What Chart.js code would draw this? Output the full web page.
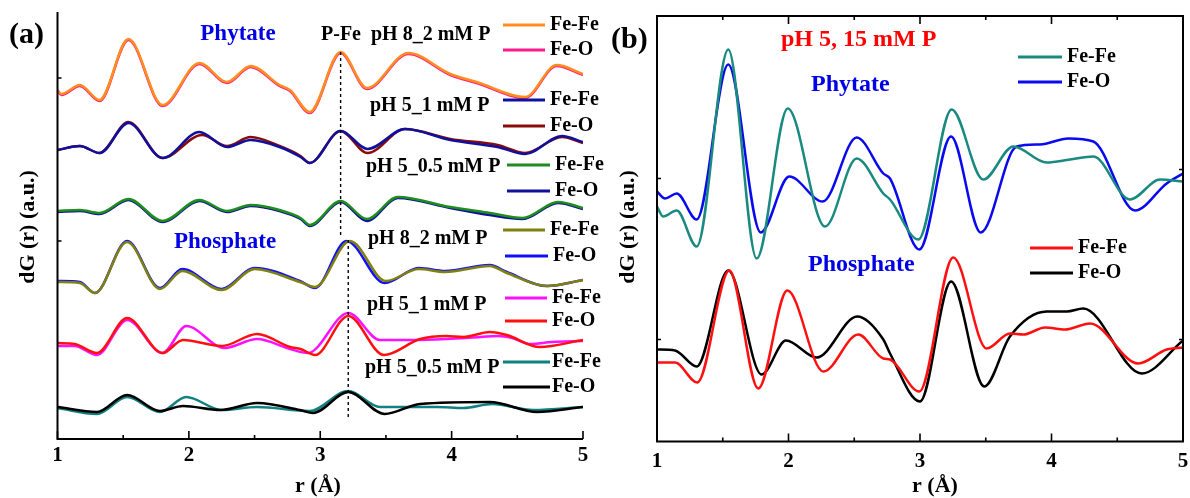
<!DOCTYPE html>
<html>
<head>
<meta charset="utf-8">
<script src="https://cdn.jsdelivr.net/npm/chart.js@4.4.1/dist/chart.umd.min.js"></script>
<style>
  html, body { margin: 0; padding: 0; background: #fff; }
  #wrap { position: relative; width: 1190px; height: 498px; }
  canvas { position: absolute; left: 0; top: 0; }
</style>
</head>
<body>
<div id="wrap">
  <canvas id="pa" width="1190" height="498"></canvas>
  <canvas id="pb" width="1190" height="498"></canvas>
</div>
<script>
// r in Å, dG(r) in a.u. (curves stacked with offsets)
const rMajor = [1, 2, 3, 4, 5];
const rMinor = [1.5, 2.5, 3.5, 4.5];

// (a) phytate, pH 8, 2 mM P
const phyA8FeFe = [[1.0,34.9],[1.03,34.5],[1.17,35.4],[1.32,33.9],[1.54,40.0],[1.80,33.4],[2.08,37.6],[2.29,35.7],[2.47,37.3],[2.69,35.4],[2.77,34.9],[2.92,32.7],[3.155,38.7],[3.355,35.1],[3.67,38.6],[3.99,36.5],[4.19,35.7],[4.56,34.2],[4.80,37.4],[5.0,36.5]];
const phyA8FeO  = [[1.0,34.8],[1.03,34.4],[1.17,35.3],[1.32,33.8],[1.54,39.9],[1.80,33.3],[2.08,37.5],[2.29,35.6],[2.47,37.2],[2.69,35.3],[2.77,34.8],[2.92,32.6],[3.155,38.6],[3.355,35.0],[3.67,38.5],[3.99,36.4],[4.19,35.6],[4.56,34.1],[4.80,37.3],[5.0,36.4]];
// (a) phytate, pH 5, 1 mM P
const phyA5FeFe = [[1.0,28.9],[1.17,29.3],[1.32,28.6],[1.54,31.6],[1.80,28.1],[2.08,30.7],[2.29,29.2],[2.47,29.9],[2.69,29.2],[2.85,28.2],[2.92,27.6],[3.155,30.8],[3.36,29.0],[3.645,31.0],[3.99,29.9],[4.35,29.2],[4.56,28.5],[4.84,30.3],[5.0,29.7]];
const phyA5FeO  = [[1.0,28.9],[1.17,29.3],[1.32,28.6],[1.54,31.7],[1.80,28.1],[2.10,30.4],[2.29,29.3],[2.47,30.2],[2.69,29.3],[2.85,28.3],[2.92,27.6],[3.155,30.8],[3.36,28.6],[3.645,31.0],[3.99,30.0],[4.35,29.4],[4.56,28.6],[4.84,30.2],[5.0,29.6]];
// (a) phytate, pH 5, 0.5 mM P
const phyA05FeFe = [[1.0,22.8],[1.17,22.9],[1.32,22.6],[1.54,24.0],[1.80,21.8],[2.08,23.9],[2.29,22.8],[2.47,23.4],[2.69,22.9],[2.85,22.1],[2.92,21.4],[3.155,23.8],[3.355,22.0],[3.59,24.2],[3.99,23.2],[4.29,22.6],[4.54,22.1],[4.81,23.7],[5.0,23.1]];
const phyA05FeO  = [[1.0,22.7],[1.17,22.8],[1.32,22.5],[1.54,23.9],[1.80,21.7],[2.08,23.8],[2.29,22.7],[2.47,23.3],[2.69,22.8],[2.85,22.0],[2.92,21.3],[3.155,23.7],[3.355,21.8],[3.59,24.1],[3.99,23.1],[4.29,22.4],[4.54,22.0],[4.81,23.6],[5.0,23.0]];
// (a) phosphate, pH 8, 2 mM P
const phoA8FeFe = [[1.0,15.7],[1.17,15.6],[1.285,14.6],[1.53,19.7],[1.78,15.0],[1.95,16.8],[2.25,14.9],[2.50,17.0],[2.845,15.7],[2.96,15.2],[3.226,19.8],[3.50,15.8],[3.75,17.0],[3.95,16.7],[4.29,17.3],[4.42,16.6],[4.725,15.3],[5.0,15.9]];
const phoA8FeO  = [[1.0,15.8],[1.17,15.7],[1.285,14.6],[1.53,19.8],[1.78,15.1],[1.95,17.0],[2.25,15.0],[2.50,17.1],[2.845,15.8],[2.96,15.1],[3.20,19.8],[3.49,15.6],[3.75,17.1],[3.95,16.8],[4.29,17.4],[4.42,16.7],[4.725,15.3],[5.0,15.9]];
// (a) phosphate, pH 5, 1 mM P
const phoA5FeFe = [[1.0,9.3],[1.13,9.3],[1.30,8.4],[1.53,11.9],[1.80,8.6],[1.98,11.3],[2.27,9.1],[2.52,10.0],[2.77,9.0],[2.905,8.6],[3.213,12.6],[3.455,9.9],[3.70,9.9],[3.96,10.0],[4.22,10.2],[4.35,10.3],[4.46,10.1],[4.60,9.5],[4.76,9.7],[5.0,9.8]];
const phoA5FeO  = [[1.0,9.6],[1.13,9.5],[1.30,8.6],[1.53,12.1],[1.80,8.6],[1.955,9.9],[2.25,9.3],[2.52,10.5],[2.77,9.2],[2.85,9.0],[2.96,8.4],[3.213,12.3],[3.485,8.4],[3.76,10.0],[3.96,10.3],[4.09,10.2],[4.29,10.7],[4.42,10.4],[4.67,9.2],[5.0,9.9]];
// (a) phosphate, pH 5, 0.5 mM P
const phoA05FeFe = [[1.0,3.1],[1.30,2.5],[1.53,4.2],[1.78,2.7],[1.98,4.2],[2.25,2.9],[2.52,3.2],[2.92,2.8],[3.213,4.8],[3.455,3.2],[3.89,3.2],[4.09,3.1],[4.31,3.5],[4.62,2.9],[5.0,3.2]];
const phoA05FeO  = [[1.0,3.2],[1.30,2.7],[1.53,4.4],[1.78,2.8],[1.955,3.3],[2.24,2.9],[2.52,3.6],[2.845,2.9],[2.945,2.6],[3.213,4.7],[3.49,2.5],[3.76,3.5],[4.29,3.7],[4.65,2.7],[5.0,3.2]];
// P-Fe guide positions (r) and their vertical spans
const pFeR = [3.155, 3.213];
const pFeSpan = [[38.7, 20.2], [19.9, 2.1]];

// (b) pH 5, 15 mM P
const phyBFeFe = [[1.0,23.5],[1.046,22.5],[1.15,23.1],[1.302,19.5],[1.542,39.2],[1.758,18.3],[1.994,33.3],[2.278,21.5],[2.519,28.3],[2.721,24.8],[2.772,24.2],[2.987,20.2],[3.241,33.2],[3.481,26.2],[3.71,29.5],[3.963,27.9],[4.141,28.2],[4.318,28.5],[4.597,24.2],[4.825,26.2],[5.0,26.0]];
const phyBFeO  = [[1.0,25.0],[1.061,24.3],[1.15,24.8],[1.302,22.2],[1.542,37.7],[1.789,20.9],[2.006,26.5],[2.26,24.0],[2.519,30.4],[2.721,26.8],[2.772,26.3],[2.995,19.2],[3.236,30.5],[3.462,20.9],[3.735,29.5],[3.913,29.7],[4.128,30.3],[4.318,30.0],[4.635,23.1],[4.876,25.8],[5.0,26.8]];
const phoBFeFe = [[1.0,7.9],[1.137,7.9],[1.306,5.9],[1.55,17.1],[1.77,5.3],[1.991,15.1],[2.265,7.0],[2.531,10.7],[2.721,8.3],[2.772,8.2],[2.995,5.0],[3.253,18.4],[3.507,9.3],[3.684,10.8],[3.786,10.7],[3.951,11.4],[4.103,11.2],[4.293,11.8],[4.66,7.8],[4.876,9.2],[5.0,9.4]];
const phoBFeO  = [[1.0,9.2],[1.137,9.1],[1.302,7.5],[1.542,17.1],[1.796,6.7],[1.981,10.1],[2.214,8.4],[2.523,12.5],[2.721,10.2],[2.772,8.8],[3.0,4.0],[3.236,16.0],[3.489,5.5],[3.684,10.5],[3.963,13.0],[4.116,13.0],[4.242,13.3],[4.686,6.8],[5.0,10.1]];

const yTicksA = [19.8, 36.1];
const yTicksB = [10.2, 26.3];
const yTicksBRight = [10.2, 27.2];

const serif = '"Liberation Serif", "Times New Roman", serif';

function curve(pts, color, width) {
  return {
    data: pts.map(([x, y]) => ({ x, y })),
    borderColor: color,
    borderWidth: width || 2.5,
    pointRadius: 0,
    fill: false,
    cubicInterpolationMode: 'monotone'
  };
}

function guide(r, span) {
  return {
    data: [{ x: r, y: span[0] }, { x: r, y: span[1] }],
    borderColor: '#000',
    borderWidth: 1.4,
    borderDash: [3, 3],
    pointRadius: 0,
    tension: 0
  };
}

function text(ctx, s, x, y, size, color, align) {
  ctx.font = 'bold ' + size + 'px ' + serif;
  ctx.fillStyle = color || '#000';
  ctx.textAlign = align || 'left';
  ctx.textBaseline = 'middle';
  ctx.fillText(s, x, y);
}

// axes, inside ticks, labels and the hand-placed legend keys
function decor(spec) {
  return {
    id: 'decor',
    afterDatasetsDraw(chart) {
      const { ctx, chartArea: a, scales: { x, y } } = chart;
      ctx.save();
      ctx.strokeStyle = '#000';
      ctx.lineWidth = 2;
      ctx.beginPath();
      if (spec.box) {
        ctx.rect(a.left, a.top, a.right - a.left, a.bottom - a.top);
      } else {
        ctx.moveTo(a.left, a.top);
        ctx.lineTo(a.left, a.bottom);
        ctx.lineTo(a.right, a.bottom);
      }
      ctx.stroke();

      ctx.lineWidth = 1.6;
      ctx.beginPath();
      rMajor.concat(rMinor).forEach(v => {
        const px = x.getPixelForValue(v);
        const len = rMajor.includes(v) ? 8 : 4;
        ctx.moveTo(px, a.bottom); ctx.lineTo(px, a.bottom - len);
        if (spec.box) { ctx.moveTo(px, a.top); ctx.lineTo(px, a.top + len); }
      });
      spec.yLeft.forEach(v => {
        const py = y.getPixelForValue(v);
        ctx.moveTo(a.left, py); ctx.lineTo(a.left + 4, py);
      });
      (spec.yRight || []).forEach(v => {
        const py = y.getPixelForValue(v);
        ctx.moveTo(a.right, py); ctx.lineTo(a.right - 4, py);
      });
      ctx.stroke();

      rMajor.forEach(v => text(ctx, String(v), x.getPixelForValue(v), spec.tickY, 21, '#000', 'center'));
      text(ctx, 'r (Å)', spec.xTitle[0], spec.xTitle[1], 22, '#000', 'center');

      ctx.save();
      ctx.translate(spec.yTitle[0], spec.yTitle[1]);
      ctx.rotate(-Math.PI / 2);
      text(ctx, 'dG (r) (a.u.)', 0, 0, 22, '#000', 'center');
      ctx.restore();

      spec.labels.forEach(l => text(ctx, l[0], l[1], l[2], l[3], l[4], l[5]));

      ctx.lineWidth = 3;
      spec.keys.forEach(k => {
        ctx.strokeStyle = k[1];
        ctx.beginPath();
        ctx.moveTo(k[2], k[4]); ctx.lineTo(k[3], k[4]);
        ctx.stroke();
        text(ctx, k[0], k[5], k[4], 20, '#000');
      });
      ctx.restore();
    }
  };
}

function makeChart(id, datasets, area, yMax, spec) {
  return new Chart(document.getElementById(id), {
    type: 'line',
    data: { datasets },
    options: {
      responsive: false,
      animation: false,
      events: [],
      layout: { padding: { left: area[0], top: area[1], right: 1190 - area[2], bottom: 498 - area[3] } },
      scales: {
        x: {
          type: 'linear', min: 1, max: 5,
          ticks: { display: false },
          grid: { display: false, drawTicks: false },
          border: { display: false },
          afterFit: s => { s.height = 0; }
        },
        y: {
          min: 0, max: yMax,
          ticks: { display: false },
          grid: { display: false, drawTicks: false },
          border: { display: false },
          afterFit: s => { s.width = 0; }
        }
      },
      plugins: { legend: { display: false }, tooltip: { enabled: false } }
    },
    plugins: [decor(spec)]
  });
}

const blueTxt = '#0000e6';

makeChart('pa', [
  guide(pFeR[0], pFeSpan[0]),
  guide(pFeR[1], pFeSpan[1]),
  curve(phyA8FeFe, '#ff8c1e'),
  curve(phyA8FeO, '#ff1a8c'),
  curve(phyA5FeFe, '#10109c'),
  curve(phyA5FeO, '#8b0a0a'),
  curve(phyA05FeFe, '#1e8c1e'),
  curve(phyA05FeO, '#10109c'),
  curve(phoA8FeFe, '#808010'),
  curve(phoA8FeO, '#1010ff'),
  curve(phoA5FeO, '#ff1010'),
  curve(phoA5FeFe, '#ff10ff'),
  curve(phoA05FeO, '#000000'),
  curve(phoA05FeFe, '#108080')
], [57.5, 12, 583, 439], 42.7, {
  box: false,
  yLeft: yTicksA,
  tickY: 456,
  xTitle: [318, 486],
  yTitle: [28, 227],
  labels: [
    ['(a)', 9, 35, 30, '#000'],
    ['Phytate', 238, 34, 23, blueTxt, 'center'],
    ['P-Fe', 321, 35, 20, '#000'],
    ['pH 8_2 mM P', 371, 35, 20, '#000'],
    ['pH 5_1 mM P', 370, 106, 20, '#000'],
    ['pH 5_0.5 mM P', 366, 167, 20, '#000'],
    ['Phosphate', 225, 242, 23, blueTxt, 'center'],
    ['pH 8_2 mM P', 368, 239, 20, '#000'],
    ['pH 5_1 mM P', 367, 305, 20, '#000'],
    ['pH 5_0.5 mM P', 365, 368, 20, '#000']
  ],
  keys: [
    ['Fe-Fe', '#ff8c1e', 503, 545, 25, 550],
    ['Fe-O', '#ff1a8c', 503, 545, 50, 550],
    ['Fe-Fe', '#10109c', 503, 545, 100, 550],
    ['Fe-O', '#8b0a0a', 503, 545, 126, 550],
    ['Fe-Fe', '#1e8c1e', 507, 550, 165, 555],
    ['Fe-O', '#10109c', 507, 550, 191, 555],
    ['Fe-Fe', '#808010', 503, 545, 230, 550],
    ['Fe-O', '#1010ff', 505, 548, 256, 553],
    ['Fe-Fe', '#ff10ff', 505, 547, 298, 552],
    ['Fe-O', '#ff1010', 505, 547, 321, 552],
    ['Fe-Fe', '#108080', 503, 550, 362, 552],
    ['Fe-O', '#000000', 503, 550, 387, 552]
  ]
});

makeChart('pb', [
  curve(phyBFeFe, '#1a8a80'),
  curve(phyBFeO, '#0a0aee'),
  curve(phoBFeFe, '#ff1010'),
  curve(phoBFeO, '#000000')
], [657, 16, 1183, 441.5], 42.55, {
  box: true,
  yLeft: yTicksB,
  yRight: yTicksBRight,
  tickY: 462,
  xTitle: [935, 486],
  yTitle: [628, 227],
  labels: [
    ['(b)', 611, 40, 30, '#000'],
    ['pH 5, 15 mM P', 781, 40, 24, '#ff0000'],
    ['Phytate', 811, 85, 24, blueTxt],
    ['Phosphate', 808, 265, 24, blueTxt]
  ],
  keys: [
    ['Fe-Fe', '#1a8a80', 1018, 1062, 57, 1067],
    ['Fe-O', '#0a0aee', 1018, 1062, 82, 1067],
    ['Fe-Fe', '#ff1010', 1030, 1073, 248, 1078],
    ['Fe-O', '#000000', 1030, 1073, 273, 1078]
  ]
});
</script>
</body>
</html>
